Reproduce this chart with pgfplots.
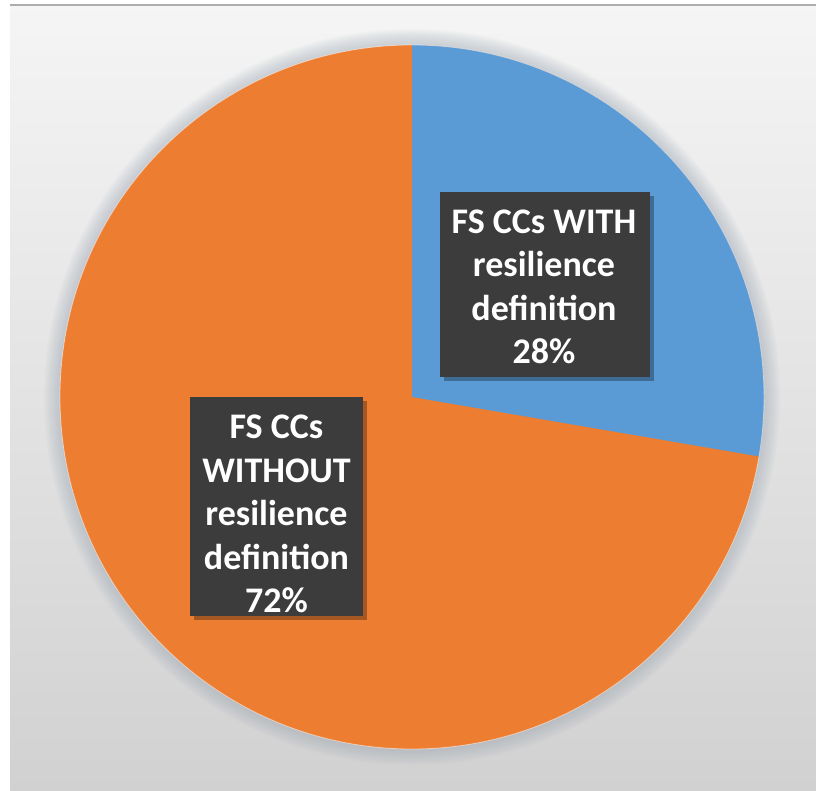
\documentclass[border=0pt]{standalone}
\usepackage{pgfplots}
\usepackage{pgfplotstable}
\pgfplotsset{compat=1.18}
\usepackage{fontspec}
\setmainfont{Carlito}
\definecolor{pieorange}{HTML}{ED7D31}
\definecolor{pieblue}{HTML}{5B9BD5}
\definecolor{boxgray}{HTML}{3C3C3C}
\definecolor{glow}{HTML}{9AA6B4}

\pgfplotstableread{
label value
With 27.7
Without 72.3
}\piedata

\begin{document}
\begin{tikzpicture}
\pgfplotstablegetelem{0}{value}\of\piedata
\pgfmathsetmacro{\sweep}{\pgfplotsretval*3.6}
\pgfmathsetmacro{\aA}{90}
\pgfmathsetmacro{\aB}{90-\sweep/3}
\pgfmathsetmacro{\aC}{90-2*\sweep/3}
\pgfmathsetmacro{\aD}{90-\sweep}
\def\cx{412}\def\cy{393}\def\R{352}
\pgfmathsetmacro{\xA}{\cx+800*cos(\aA)}\pgfmathsetmacro{\yA}{\cy+800*sin(\aA)}
\pgfmathsetmacro{\xB}{\cx+800*cos(\aB)}\pgfmathsetmacro{\yB}{\cy+800*sin(\aB)}
\pgfmathsetmacro{\xC}{\cx+800*cos(\aC)}\pgfmathsetmacro{\yC}{\cy+800*sin(\aC)}
\pgfmathsetmacro{\xD}{\cx+800*cos(\aD)}\pgfmathsetmacro{\yD}{\cy+800*sin(\aD)}
\begin{axis}[
  scale only axis, width=612pt, height=592.5pt,
  xmin=0, xmax=816, ymin=0, ymax=790,
  hide axis, clip=true]
\fill[white] (axis cs:0,0) rectangle (axis cs:816,790);
\shade[top color=black!4, bottom color=black!18] (axis cs:10,0) rectangle (axis cs:816,785);
\draw[black!32, line width=1.5pt] (axis cs:10,785) -- (axis cs:816,785);
% glow
\pgfplotsinvokeforeach{1,...,10}{
  \fill[glow, opacity=0.05] (axis cs:\cx,\cy) circle[radius={\R+1.6*#1}];
}
% orange slice (rest of the pie)
\fill[pieorange] (axis cs:\cx,\cy) circle[radius=\R];
% blue slice
\begin{scope}
\clip (axis cs:\cx,\cy) circle[radius=\R];
\fill[pieblue] (axis cs:\cx,\cy) -- (axis cs:\xA,\yA) -- (axis cs:\xB,\yB) -- (axis cs:\xC,\yC) -- (axis cs:\xD,\yD) -- cycle;
\end{scope}
\draw[white, opacity=0.5, line width=0.6pt] (axis cs:\cx,\cy) circle[radius=\R];
% label boxes with shadow
\fill[black, opacity=0.3] (axis cs:444,409) rectangle (axis cs:654,594);
\fill[boxgray] (axis cs:440,413) rectangle (axis cs:650,598);
\fill[black, opacity=0.3] (axis cs:194,170) rectangle (axis cs:367,389);
\fill[boxgray] (axis cs:190,174) rectangle (axis cs:363,393);
\node[align=center, text=white, font=\bfseries\fontsize{27}{32.6}\selectfont, inner sep=0pt]
  at (axis cs:544,503) {FS CCs WITH\\resilience\\definition\\28\%};
\node[align=center, text=white, font=\bfseries\fontsize{27}{32.6}\selectfont, inner sep=0pt]
  at (axis cs:276.5,276) {FS CCs\\WITHOUT\\resilience\\definition\\72\%};
\end{axis}
\end{tikzpicture}
\end{document}
